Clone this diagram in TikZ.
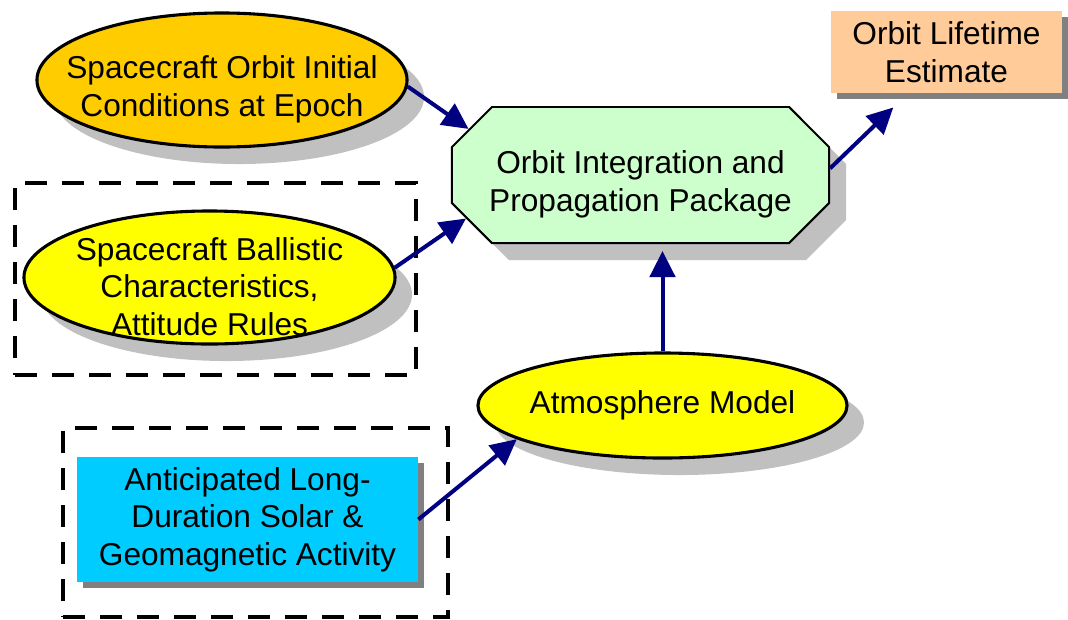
\documentclass[tikz,border=0pt]{standalone}
\usepackage{fontspec}
\setmainfont{Liberation Sans}
\usetikzlibrary{arrows.meta, shapes.geometric, shapes.misc, shadows}

\definecolor{epochorange}{HTML}{FFCC00}
\definecolor{modelyellow}{HTML}{FFFF00}
\definecolor{packgreen}{HTML}{CCFFCC}
\definecolor{resultpeach}{HTML}{FFCC99}
\definecolor{solarcyan}{HTML}{00CCFF}
\definecolor{arrownavy}{HTML}{000080}
\definecolor{softshadow}{HTML}{C0C0C0}
\definecolor{hardshadow}{HTML}{808080}

\newcommand{\tallstrut}{\rule{0pt}{1.03cm}}

\begin{document}
\begin{tikzpicture}[x=0.025cm, y=-0.025cm,
    font=\fontsize{22.5}{26.8}\selectfont,
    softdrop/.style={drop shadow={shadow xshift=0.425cm, shadow yshift=-0.425cm, fill=softshadow, opacity=1}},
    harddrop/.style={drop shadow={shadow xshift=0.15cm, shadow yshift=-0.15cm, fill=hardshadow, opacity=1}},
    inputell/.style={ellipse, draw, line width=2.2pt, align=center, inner xsep=-4cm, inner ysep=-3cm, softdrop},
    package/.style={chamfered rectangle, chamfered rectangle xsep=0.875cm, draw, line width=1.4pt,
        fill=packgreen, align=center, inner sep=0pt, minimum width=9.425cm, minimum height=3.4cm, softdrop},
    plainbox/.style={rectangle, align=center, inner sep=0pt, harddrop},
    groupbox/.style={rectangle, draw, line width=0.1cm, dash pattern=on 0.55cm off 0.375cm},
    flow/.style={draw=arrownavy, line width=0.1cm, -{Triangle[length=0.65cm, width=0.63cm]}}]

    % dashed groups
    \node[groupbox, minimum width=10.025cm, minimum height=4.8cm] (ballisticgrp) at (215.5,279) {};
    \node[groupbox, minimum width=9.625cm, minimum height=4.725cm] (solargrp) at (255.5,522.5) {};

    \node[inputell, fill=epochorange, minimum width=9.25cm, minimum height=3.35cm] (init) at (222,80)
        {\tallstrut Spacecraft Orbit Initial\\Conditions at Epoch};
    \node[inputell, fill=modelyellow, minimum width=9.275cm, minimum height=3.325cm] (ballistic) at (209.5,277.5)
        {\tallstrut Spacecraft Ballistic\\Characteristics,\\Attitude Rules};
    \node[package] (integ) at (640.5,175) {\tallstrut Orbit Integration and\\Propagation Package};
    \node[plainbox, fill=resultpeach, minimum width=5.775cm, minimum height=2.05cm] (lifetime) at (946.5,52)
        {Orbit Lifetime\\Estimate};
    \node[inputell, fill=modelyellow, minimum width=9.225cm, minimum height=2.625cm] (atmos) at (662.5,405.5)
        {Atmosphere Model};
    \node[plainbox, fill=solarcyan, minimum width=8.525cm, minimum height=3.125cm] (solar) at (247.5,519.5)
        {Anticipated Long-\\Duration Solar \&\\Geomagnetic Activity};

    \path
    (init.-2) edge[flow] (integ.165)
    (ballistic.3) edge[flow] (integ.194.5)
    (integ.2) edge[flow, shorten >=0.51cm] (lifetime.227.6)
    (atmos.north) edge[flow, shorten >=0.175cm] (atmos.north |- integ.south)
    (solar.east) edge[flow] (atmos.193.4);

    \useasboundingbox (0,0) rectangle (1068,619);
\end{tikzpicture}
\end{document}
